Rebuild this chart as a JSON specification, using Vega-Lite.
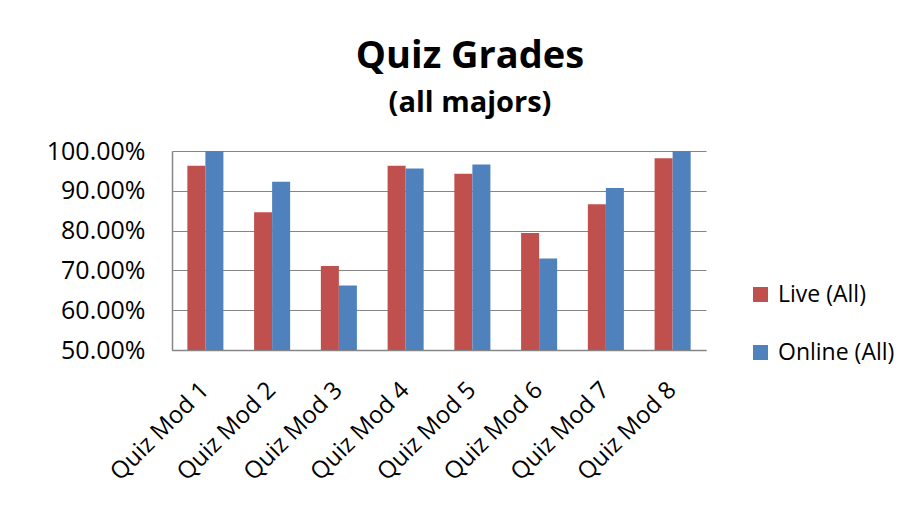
{
  "$schema": "https://vega.github.io/schema/vega-lite/v6.json",
  "width": 534,
  "height": 199,
  "autosize": {"type": "none"},
  "padding": {"left": 172, "top": 151, "right": 208, "bottom": 160},
  "background": "white",
  "title": {
    "text": "Quiz Grades",
    "subtitle": "(all majors)",
    "font": "Open Sans",
    "fontSize": 38,
    "fontWeight": "bold",
    "subtitleFont": "Open Sans",
    "subtitleFontSize": 29,
    "subtitleFontWeight": "bold",
    "subtitleColor": "black",
    "subtitlePadding": 13,
    "color": "black",
    "anchor": "middle",
    "dx": 31,
    "offset": 21
  },
  "data": {
    "values": [
      {"quiz": "Quiz Mod 1", "group": "Live (All)", "grade": 0.963},
      {"quiz": "Quiz Mod 1", "group": "Online (All)", "grade": 1.0},
      {"quiz": "Quiz Mod 2", "group": "Live (All)", "grade": 0.846},
      {"quiz": "Quiz Mod 2", "group": "Online (All)", "grade": 0.923},
      {"quiz": "Quiz Mod 3", "group": "Live (All)", "grade": 0.711},
      {"quiz": "Quiz Mod 3", "group": "Online (All)", "grade": 0.662},
      {"quiz": "Quiz Mod 4", "group": "Live (All)", "grade": 0.963},
      {"quiz": "Quiz Mod 4", "group": "Online (All)", "grade": 0.956},
      {"quiz": "Quiz Mod 5", "group": "Live (All)", "grade": 0.943},
      {"quiz": "Quiz Mod 5", "group": "Online (All)", "grade": 0.966},
      {"quiz": "Quiz Mod 6", "group": "Live (All)", "grade": 0.794},
      {"quiz": "Quiz Mod 6", "group": "Online (All)", "grade": 0.730},
      {"quiz": "Quiz Mod 7", "group": "Live (All)", "grade": 0.866},
      {"quiz": "Quiz Mod 7", "group": "Online (All)", "grade": 0.907},
      {"quiz": "Quiz Mod 8", "group": "Live (All)", "grade": 0.982},
      {"quiz": "Quiz Mod 8", "group": "Online (All)", "grade": 1.0}
    ]
  },
  "mark": {"type": "bar", "clip": true},
  "encoding": {
    "x": {
      "field": "quiz",
      "type": "nominal",
      "title": null,
      "scale": {"paddingInner": 0.46, "paddingOuter": 0.23},
      "axis": {
        "labelAngle": -45,
        "labelAlign": "right",
        "labelBaseline": "middle",
        "labelFont": "Open Sans",
        "labelFontSize": 24,
        "labelColor": "black",
        "labelPadding": 36,
        "ticks": false,
        "domainColor": "#868686",
        "domainWidth": 1.5
      }
    },
    "xOffset": {"field": "group", "type": "nominal"},
    "y": {
      "field": "grade",
      "type": "quantitative",
      "title": null,
      "scale": {"domain": [0.5, 1.0], "nice": false, "zero": false},
      "axis": {
        "values": [0.5, 0.6, 0.7, 0.8, 0.9, 1.0],
        "format": ".2%",
        "labelFont": "Open Sans",
        "labelFontSize": 25,
        "labelColor": "black",
        "labelPadding": 27,
        "ticks": false,
        "domainColor": "#868686",
        "domainWidth": 1.5,
        "grid": true,
        "gridColor": "#868686",
        "gridWidth": 1.2
      }
    },
    "color": {
      "field": "group",
      "type": "nominal",
      "title": null,
      "scale": {"domain": ["Live (All)", "Online (All)"], "range": ["#C0504D", "#4F81BD"]},
      "legend": {
        "orient": "none",
        "legendX": 577,
        "legendY": 132,
        "symbolType": "square",
        "symbolSize": 225,
        "symbolStrokeWidth": 0,
        "labelFont": "Open Sans",
        "labelFontSize": 23,
        "labelColor": "black",
        "labelOffset": 6,
        "rowPadding": 34
      }
    }
  },
  "config": {
    "view": {"stroke": null}
  }
}
